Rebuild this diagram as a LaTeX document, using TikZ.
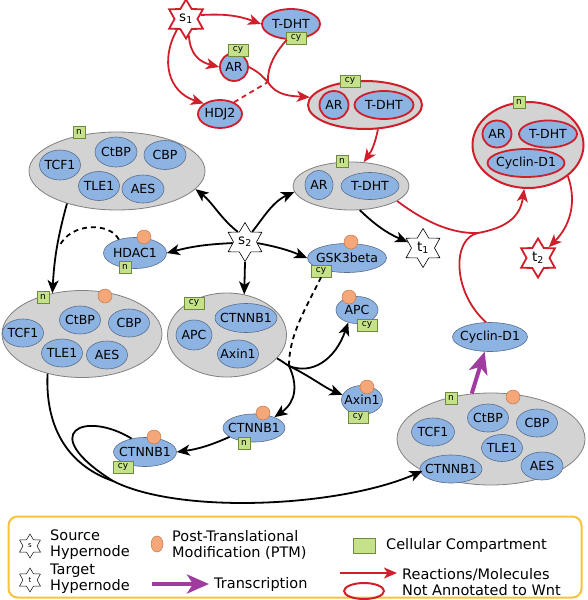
\documentclass[tikz,border=0pt]{standalone}
\usepackage{fontspec}
\setmainfont{DejaVu Sans}
\usetikzlibrary{shapes.geometric,arrows.meta}
\definecolor{molblue}{HTML}{8DB3E2}
\definecolor{molborder}{HTML}{5A6E8C}
\definecolor{cgray}{HTML}{D3D3D3}
\definecolor{cborder}{HTML}{808080}
\definecolor{wred}{HTML}{D01F2A}
\definecolor{ptmfill}{HTML}{F5A77A}
\definecolor{ptmborder}{HTML}{C07A50}
\definecolor{compfill}{HTML}{C5E28A}
\definecolor{compborder}{HTML}{6E8A3A}
\definecolor{tpurple}{HTML}{A03CA0}
\definecolor{legendor}{HTML}{F6C33A}
\begin{document}
\begin{tikzpicture}[x=1pt,y=-1pt, font=\fontsize{12.5}{14}\selectfont,
 zw/.style={execute at begin node={\hbox to 0pt\bgroup\hss}, execute at end node={\hss\egroup}},
 sz/.style 2 args={minimum width=#1, minimum height=#2},
 mol/.style={ellipse, draw=molborder, line width=0.6pt, fill=molblue, inner sep=0pt, zw},
 rmol/.style={mol, draw=wred, line width=1.8pt},
 cplx/.style={ellipse, draw=cborder, line width=0.8pt, fill=cgray, inner sep=0pt},
 rcplx/.style={cplx, draw=wred, line width=2pt},
 comp/.style={rectangle, draw=compborder, fill=compfill, line width=0.5pt, inner sep=0pt, font=\fontsize{9}{9}\selectfont, minimum height=12, minimum width=12},
 cyb/.style={comp, minimum width=20},
 ptm/.style={circle, draw=ptmborder, fill=ptmfill, line width=0.5pt, minimum size=14, inner sep=0pt},
 hstar/.style={star, star points=6, star point ratio=1.7, draw=black, fill=white, minimum size=39, inner sep=0pt, line width=0.6pt, font=\fontsize{13.5}{13.5}\selectfont},
 rstar/.style={hstar, draw=wred, line width=1.8pt},
 barrow/.style={line width=1.8pt, -{Stealth[length=13pt,width=11pt,inset=3.5pt]}},
 bline/.style={line width=1.8pt},
 bdash/.style={line width=1.8pt, dash pattern=on 5pt off 4pt},
 rarrow/.style={draw=wred, line width=1.8pt, -{Stealth[length=13pt,width=11pt,inset=3.5pt]}},
 rline/.style={draw=wred, line width=1.8pt},
 parrow/.style={draw=tpurple, line width=4pt, -{Stealth[length=22pt,width=19pt,inset=6pt]}},
 legtext/.style={anchor=west, align=left, font=\fontsize{14.5}{16}\selectfont, inner sep=0pt},
]
\useasboundingbox (0,0) rectangle (588,600);

% ---------- top: not annotated ----------
\node[rstar] (s1) at (186,19) {s\textsubscript{1}};
\node[rmol, sz={58}{30}] (tdhtA) at (291,24) {T-DHT};
\node[cyb] (tdhtAc) at (296,38) {cy};
\node[rmol, sz={28}{28}] (arA) at (234,67) {AR};
\node[cyb] (arAc) at (238,50) {cy};
\node[rmol, sz={44}{28}] (hdj2) at (220,114) {HDJ2};

\node[rcplx, sz={114}{48}] (cxA) at (365,105) {};
\node[rmol, sz={29}{28}] (arB) at (334,105) {AR};
\node[rmol, sz={59}{28}] (tdhtB) at (384,105) {T-DHT};
\node[cyb] (cxAc) at (350,81) {cy};

% ---------- nuclear AR complex ----------
\node[cplx, sz={116}{48}] (cxB) at (351,186) {};
\node[mol, sz={28}{29}] (arC) at (319,185) {AR};
\node[mol, sz={58}{27}] (tdhtC) at (370,186) {T-DHT};
\node[comp] (cxBc) at (342,161) {n};

\node[hstar] (t1) at (423,248) {t\textsubscript{1}};

% ---------- big red complex ----------
\node[rcplx, sz={111}{86}] (cxC) at (528,145) {};
\node[rmol, sz={29}{27}] (arD) at (497,134) {AR};
\node[rmol, sz={58}{27}] (tdhtD) at (548,134) {T-DHT};
\node[rmol, sz={77}{28}] (cycD) at (526,163) {Cyclin-D1};
\node[comp] (cxCc) at (519,102) {n};
\node[rstar] (t2) at (538,258) {t\textsubscript{2}};

% ---------- TCF complex A ----------
\node[cplx, sz={176}{78}] (tcfA) at (117,171) {};
\node[mol, sz={41}{30}] (tcf1A) at (60,165) {TCF1};
\node[mol, sz={42}{30}] (ctbpA) at (116,152) {CtBP};
\node[mol, sz={42}{29}] (cbpA) at (165,155) {CBP};
\node[mol, sz={41}{29}] (tle1A) at (99,186) {TLE1};
\node[mol, sz={42}{28}] (aesA) at (143,189) {AES};
\node[comp] (tcfAc) at (79,132) {n};

\node[mol, sz={63}{31}] (hdac1) at (135,253) {HDAC1};
\node[ptm] (hdac1p) at (144,237) {};
\node[comp] (hdac1c) at (125,267) {n};

\node[hstar] (s2) at (245,242) {s\textsubscript{2}};

\node[mol, sz={79}{29}] (gsk) at (347,258) {GSK3beta};
\node[ptm] (gskp) at (351,242) {};
\node[cyb] (gskc) at (321,271) {cy};

% ---------- TCF complex B ----------
\node[cplx, sz={160}{87}] (tcfB) at (82,334) {};
\node[mol, sz={41}{28}] (tcf1B) at (23,333) {TCF1};
\node[mol, sz={41}{28}] (ctbpB) at (80,320) {CtBP};
\node[mol, sz={41}{28}] (cbpB) at (129,323) {CBP};
\node[mol, sz={41}{28}] (tle1B) at (62,353) {TLE1};
\node[mol, sz={41}{28}] (aesB) at (107,355) {AES};
\node[comp] (tcfBc) at (43,297) {n};
\node[ptm] (tcfBp) at (105,296) {};

% ---------- APC complex ----------
\node[cplx, sz={119}{84}] (apcX) at (227,335) {};
\node[mol, sz={36}{30}] (apcI) at (194,335) {APC};
\node[mol, sz={62}{29}] (ctnI) at (246,318) {CTNNB1};
\node[mol, sz={41}{28}] (axI) at (238,354) {Axin1};
\node[cyb] (apcXc) at (194,303) {cy};

\node[mol, sz={42}{27}] (apcS) at (357,310) {APC};
\node[ptm] (apcSp) at (349,297) {};
\node[cyb] (apcSc) at (367,325) {cy};

\node[mol, sz={41}{29}] (axS) at (362,400) {Axin1};
\node[ptm] (axSp) at (367,387) {};
\node[cyb] (axSc) at (358,417) {cy};

\node[mol, sz={62}{28}] (ctnN) at (254,428) {CTNNB1};
\node[ptm] (ctnNp) at (263,413) {};
\node[comp] (ctnNc) at (244,443) {n};

\node[mol, sz={63}{29}] (ctnC) at (145,452) {CTNNB1};
\node[ptm] (ctnCp) at (154,437) {};
\node[cyb] (ctnCc) at (123,467) {cy};

% ---------- TCF complex C ----------
\node[cplx, sz={188}{92}] (tcfC) at (491,439) {};
\node[mol, sz={43}{28}] (tcf1C) at (433,432) {TCF1};
\node[mol, sz={41}{28}] (ctbpC) at (488,418) {CtBP};
\node[mol, sz={41}{28}] (cbpC) at (537,423) {CBP};
\node[mol, sz={41}{27}] (tle1C) at (502,448) {TLE1};
\node[mol, sz={62}{28}] (ctnCC) at (451,469) {CTNNB1};
\node[mol, sz={42}{28}] (aesC) at (542,466) {AES};
\node[comp] (tcfCc) at (451,398) {n};
\node[ptm] (tcfCp) at (513,397) {};

\node[mol, sz={75}{29}] (cycS) at (490,337) {Cyclin-D1};

% ---------- red edges ----------
\draw[rarrow] (s1.15) to[bend left=12] (tdhtA.west);
\draw[rarrow] (s1.-80) .. controls (190,55) and (200,62) .. (arA.west);
\draw[rarrow] (s1.-130) .. controls (160,60) and (168,92) .. (hdj2.north west);
\coordinate (j1) at (268,82);
\draw[rline] (arA.east) .. controls (258,72) .. (j1);
\draw[rline] (tdhtA.255) .. controls (276,52) and (267,66) .. (j1);
\draw[rarrow] (j1) .. controls (276,96) and (292,96) .. (cxA.172);
\draw[rline, dash pattern=on 5pt off 4pt] (hdj2.40) -- (j1);
\draw[rarrow] (cxA.-62) to[bend left=12] (cxB.62);
\coordinate (j2) at (478,233);
\draw[rline] (cxB.-18) .. controls (425,222) and (452,234) .. (j2);
\draw[rline] (cycS.105) .. controls (452,292) and (452,238) .. (j2);
\draw[rarrow] (j2) .. controls (505,228) and (520,218) .. (cxC.-95);
\draw[rarrow] (cxC.-38) .. controls (578,205) and (568,228) .. (t2);

% ---------- black edges ----------
\draw[barrow] (cxB.-70) to[bend right=10] (t1);
\draw[barrow] (s2.125) .. controls (222,220) and (212,202) .. (tcfA.-13);
\draw[barrow] (s2.55) .. controls (262,220) and (272,202) .. (cxB.186);
\draw[barrow] (s2.185) to[bend right=6] (hdac1.east);
\draw[barrow] (s2.-5) to[bend left=6] (gsk.west);
\draw[barrow] (s2.-90) -- (apcX.67);
\draw[barrow] (tcfA.213) to[bend right=6] (tcfB.126);
\coordinate (jd) at (59,247);
\draw[bdash] (hdac1.140) .. controls (110,222) and (70,222) .. (jd);

\coordinate (j3) at (289,366);
\draw[bline] (apcX.-25) .. controls (280,360) .. (j3);
\draw[bdash] (gskc.south) .. controls (305,310) and (289,335) .. (j3);
\draw[barrow] (j3) .. controls (312,375) and (335,360) .. (apcS.235);
\draw[barrow] (j3) .. controls (310,376) and (325,388) .. (axS.165);
\draw[barrow] (j3) .. controls (298,385) and (296,402) .. (ctnN.28);
\draw[barrow] (ctnN.200) to[bend left=8] (ctnC.east);

\coordinate (j4) at (113,481);
\draw[bline] (tcfB.229) .. controls (45,430) and (70,466) .. (j4);
\draw[bline] (ctnC.135) .. controls (85,410) and (35,432) .. (j4);
\draw[barrow] (j4) .. controls (180,515) and (340,507) .. (tcfC.205);

\draw[parrow] (tcfC.113) -- (cycS.250);

% ---------- legend ----------
\node[draw=legendor, line width=2pt, rounded corners=9pt, sz={573}{81}] (leg) at (295,557) {};
\node[hstar, minimum size=24, line width=0.5pt, font=\fontsize{7}{7}\selectfont] (lgs) at (30,546) {s};
\node[legtext] (lgsT) at (50,545) {Source\\Hypernode};
\node[hstar, minimum size=24, line width=0.5pt, font=\fontsize{7}{7}\selectfont] (lgt) at (30,580) {t};
\node[legtext] (lgtT) at (50,579) {Target\\Hypernode};
\node[ptm, ellipse, sz={12}{16}] (lgp) at (157,544) {};
\node[legtext] (lgpT) at (172,545) {Post-Translational\\Modification (PTM)};
\coordinate (lpa) at (152,584);
\coordinate (lpb) at (209,584);
\draw[parrow] (lpa) -- (lpb);
\node[legtext] (lgtrT) at (214,584) {Transcription};
\node[comp, sz={22}{15}] (lgc) at (364,546) {};
\node[legtext] (lgcT) at (386,545) {Cellular Compartment};
\coordinate (lra) at (340,573);
\coordinate (lrb) at (397,573);
\draw[rarrow] (lra) -- (lrb);
\node[ellipse, draw=wred, line width=2pt, sz={40}{16}] (lgr) at (364,591) {};
\node[legtext] (lgrT) at (402,582) {Reactions/Molecules\\Not Annotated to Wnt};
\end{tikzpicture}
\end{document}
